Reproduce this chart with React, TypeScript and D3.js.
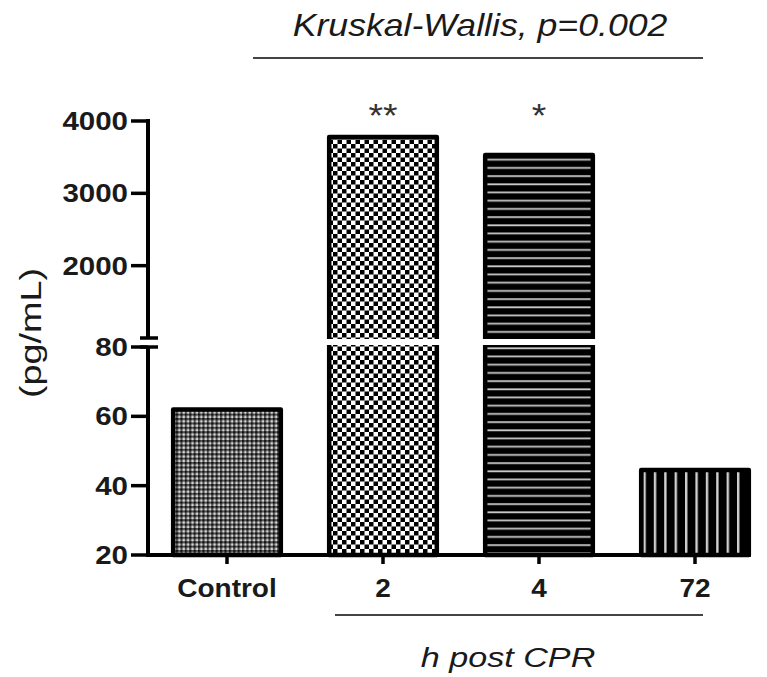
import React from "react";
import * as d3 from "d3";

const categories = ["Control", "2", "4", "72"];
const values = [62, 3780, 3530, 44.5];
const patterns = ["pat-fine", "pat-check", "pat-hstripe", "pat-vstripe"];
const stars = ["", "**", "*", ""];
const lowerTicks = [20, 40, 60, 80];
const upperTicks = [2000, 3000, 4000];
const lowerDomain = [20, 80];
const upperDomain = [1000, 4000];
const title = "Kruskal-Wallis, p=0.002";
const xTitle = "h post CPR";
const yTitle = "(pg/mL)";

const W = 767;
const H = 677;
const axisX = 148;
const axisY = 555;
const breakTop = 339;
const breakBottom = 345;
const font = "'Liberation Sans', Arial, sans-serif";

type STProps = {
  x: number;
  y: number;
  sx: number;
  rotate?: number;
  anchor?: "start" | "middle" | "end";
  size: number;
  weight?: string;
  italic?: boolean;
  fill?: string;
  children: React.ReactNode;
};

function SText({ x, y, sx, rotate = 0, anchor = "middle", size, weight = "normal", italic = false, fill = "#1a1a1a", children }: STProps) {
  return (
    <text
      transform={`translate(${x},${y}) rotate(${rotate}) scale(${sx},1)`}
      textAnchor={anchor}
      fontFamily={font}
      fontWeight={weight}
      fontStyle={italic ? "italic" : "normal"}
      fontSize={size}
      fill={fill}
    >
      {children}
    </text>
  );
}

export default function App() {
  const x = d3.scaleBand<string>().domain(categories).range([149, 773]).paddingInner(0.31).paddingOuter(0.155);
  const yLow = d3.scaleLinear().domain(lowerDomain).range([axisY, breakBottom + 2]);
  const yHigh = d3.scaleLinear().domain(upperDomain).range([breakTop - 1, 121]);
  const yOf = (v: number) => (v <= lowerDomain[1] ? yLow(v) : yHigh(v));

  return (
    <svg width={W} height={H} style={{ position: "absolute", left: 0, top: 0, background: "#fff" }}>
      <defs>
        <pattern id="pat-fine" patternUnits="userSpaceOnUse" width={4.4} height={4.4}>
          <rect width={4.4} height={4.4} fill="#555" />
          <rect width={2.2} height={2.2} fill="#111" />
          <rect x={2.2} y={2.2} width={2.2} height={2.2} fill="#d8d8d8" />
        </pattern>
        <pattern id="pat-check" patternUnits="userSpaceOnUse" width={9} height={9}>
          <rect width={9} height={9} fill="#fff" />
          <rect width={4.5} height={4.5} fill="#000" />
          <rect x={4.5} y={4.5} width={4.5} height={4.5} fill="#000" />
        </pattern>
        <pattern id="pat-hstripe" patternUnits="userSpaceOnUse" width={10} height={8.2}>
          <rect width={10} height={8.2} fill="#000" />
          <rect y={3} width={10} height={1.8} fill="#c8c8c8" />
        </pattern>
        <pattern id="pat-vstripe" patternUnits="userSpaceOnUse" width={10.4} height={10} x={655 - 1.2}>
          <rect width={10.4} height={10} fill="#000" />
          <rect x={0} width={2.4} height={10} fill="#d0d0d0" />
        </pattern>
      </defs>

      {/* bars */}
      {categories.map((c, i) => {
        const x0 = x(c)!;
        const bw = x.bandwidth();
        const top = yOf(values[i]);
        return (
          <g key={c}>
            <rect x={x0} y={top} width={bw} height={axisY - top} fill={`url(#${patterns[i]})`}
              stroke="#000" strokeWidth={4.5} strokeLinejoin="round" />
            {values[i] > lowerDomain[1] && (
              <rect x={x0 - 4} y={breakTop} width={bw + 8} height={breakBottom - breakTop} fill="#fff" />
            )}
            {stars[i] && (
              <SText x={x0 + bw / 2} y={127} sx={1.1} size={34} fill="#333">
                {stars[i]}
              </SText>
            )}
          </g>
        );
      })}

      {/* x axis */}
      <line x1={axisX - 2} x2={x("72")! + x.bandwidth() + 2} y1={axisY} y2={axisY} stroke="#000" strokeWidth={4} />
      {categories.map((c) => (
        <g key={"xt" + c}>
          <line x1={x(c)! + x.bandwidth() / 2} x2={x(c)! + x.bandwidth() / 2} y1={axisY} y2={axisY + 9} stroke="#000" strokeWidth={3.5} />
          <SText x={x(c)! + x.bandwidth() / 2} y={597} sx={1.12} size={25} weight="bold">
            {c}
          </SText>
        </g>
      ))}

      {/* y axis lower */}
      <line x1={axisX} x2={axisX} y1={axisY + 2} y2={breakBottom + 2} stroke="#000" strokeWidth={4} />
      {/* y axis upper */}
      <line x1={axisX} x2={axisX} y1={breakTop - 1} y2={119} stroke="#000" strokeWidth={4} />
      {/* break marks */}
      <line x1={140} x2={158} y1={breakTop - 1} y2={breakTop - 1} stroke="#000" strokeWidth={3.5} />
      <line x1={140} x2={158} y1={breakBottom + 2} y2={breakBottom + 2} stroke="#000" strokeWidth={3.5} />

      {lowerTicks.map((t) => (
        <g key={"lt" + t}>
          <line x1={131} x2={axisX} y1={yLow(t)} y2={yLow(t)} stroke="#000" strokeWidth={3.5} />
          <SText x={128} y={yLow(t) + 9} sx={1.18} anchor="end" size={25} weight="bold">
            {t}
          </SText>
        </g>
      ))}
      {upperTicks.map((t) => (
        <g key={"ut" + t}>
          <line x1={131} x2={axisX} y1={yHigh(t)} y2={yHigh(t)} stroke="#000" strokeWidth={3.5} />
          <SText x={128} y={yHigh(t) + 9} sx={1.18} anchor="end" size={25} weight="bold">
            {t}
          </SText>
        </g>
      ))}

      {/* y title */}
      <SText x={41} y={333} rotate={-90} sx={1.3} size={29}>
        {yTitle}
      </SText>

      {/* top title */}
      <SText x={480} y={36} sx={1.15} size={31} italic>
        {title}
      </SText>
      <line x1={253} x2={703} y1={58} y2={58} stroke="#444" strokeWidth={2.2} />

      {/* bottom label */}
      <line x1={335} x2={703} y1={615} y2={615} stroke="#444" strokeWidth={2} />
      <SText x={508} y={667} sx={1.22} size={28} italic>
        {xTitle}
      </SText>
    </svg>
  );
}
